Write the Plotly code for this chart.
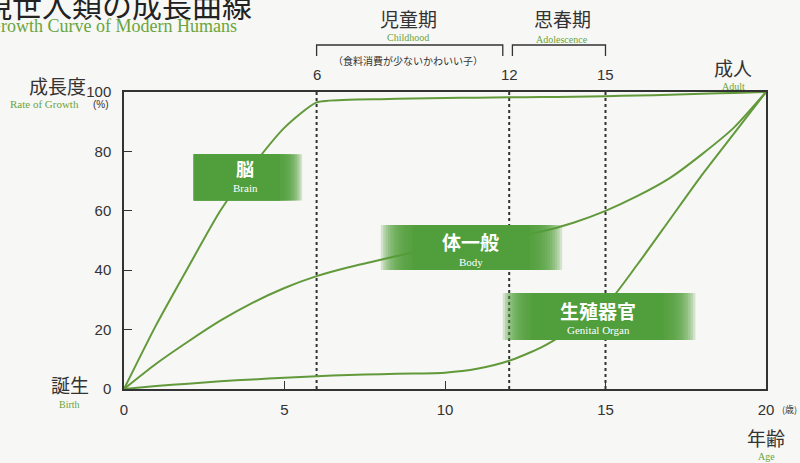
import plotly.graph_objects as go

# ---- data ----
ages = [0, 1, 2, 3, 4, 5, 6, 7, 8, 9, 10, 11, 12, 13, 14, 15, 16, 17, 18, 19, 20]
brain = [0, 21.5, 41, 60, 75, 88, 96.5, 97.4, 97.6, 97.8, 98, 98.1, 98.2, 98.3, 98.4, 98.6, 98.8, 99.1, 99.4, 99.7, 100]
body = [0, 8.5, 16, 23, 29, 34, 38, 41, 43.5, 46, 48, 49.5, 51, 53, 56, 60, 65, 71, 79, 88, 100]
genital = [0, 1, 1.8, 2.6, 3.2, 3.8, 4.3, 4.7, 5, 5.2, 5.5, 6.8, 9.5, 14, 20.5, 28, 42, 57, 72, 86, 100]
x_ticks = [0, 5, 10, 15, 20]
y_ticks = [0, 20, 40, 60, 80, 100]
period_marks = [6, 12, 15]

JP = "Noto Sans CJK JP"
SERIF = "Liberation Serif"
SANS = "Liberation Sans"
GREEN_LINE = "#62993a"
GREEN_TXT = "#6aa53c"
BOX = (80, 158, 60)
DARK = "#333333"
BG = "#f7f7f5"

fig = go.Figure()
for name, ys in [("脳", brain), ("体一般", body), ("生殖器官", genital)]:
    fig.add_trace(go.Scatter(x=ages, y=ys, mode="lines", name=name,
                             line=dict(color=GREEN_LINE, width=2, shape="spline", smoothing=0.6),
                             cliponaxis=False, showlegend=False, hoverinfo="skip"))

shapes = []
for xm in period_marks:
    shapes.append(dict(type="line", xref="x", yref="y", x0=xm, x1=xm, y0=0, y1=100,
                       line=dict(color=DARK, width=2, dash="dot"), layer="below"))


def faded_box(x0, x1, y0, y1, fl, fr, n=14, alpha=0.22):
    """box whose left/right edges fade out; built from overlapping translucent rects"""
    r, g, b = BOX
    fill = f"rgba({r},{g},{b},{alpha})"
    out = []
    for i in range(n):
        t = i / (n - 1)
        out.append(dict(type="rect", xref="x", yref="y",
                        x0=x0 + fl * t, x1=x1 - fr * t, y0=y0, y1=y1,
                        fillcolor=fill, line=dict(width=0), layer="above"))
    out.append(dict(type="rect", xref="x", yref="y", x0=x0 + fl, x1=x1 - fr, y0=y0, y1=y1,
                    fillcolor=f"rgb({r},{g},{b})", line=dict(width=0), layer="above"))
    return out


shapes += faded_box(2.15, 5.55, 63.5, 79, 0.04, 0.7)
shapes += faded_box(8.0, 13.65, 40.1, 55.2, 1.0, 1.0)
shapes += faded_box(11.8, 17.8, 16.5, 32.3, 0.9, 1.0)


def ypx(p):
    return (389 - p) / (389 - 92)


def px2x(p):
    return (p - 124) / 642


# brackets on top (x in data, y in paper)
for xa, xb in [(6, 11.8), (12.1, 15)]:
    shapes.append(dict(type="path", xref="x", yref="paper",
                       path=f"M {xa},{ypx(56)} L {xa},{ypx(45)} L {xb},{ypx(45)} L {xb},{ypx(56)}",
                       line=dict(color=DARK, width=1.3)))

ann = []


def A(text, x, y, size, color=DARK, family=JP, xref="x", yref="y", xanchor="center", bold=False):
    if bold:
        text = f"<b>{text}</b>"
    if xref == "paper":
        x = px2x(x)
    if yref == "paper":
        y = ypx(y)
    ann.append(dict(text=text, x=x, y=y, xref=xref, yref=yref, showarrow=False,
                    font=dict(size=size, color=color, family=family), xanchor=xanchor, yanchor="middle"))


# label boxes text
A("脳", 3.77, 74.4, 18, "white", bold=True)
A("Brain", 3.77, 67.6, 11, "white", SERIF)
A("体一般", 10.8, 49.6, 19, "white", bold=True)
A("Body", 10.8, 42.9, 11, "white", SERIF)
A("生殖器官", 14.77, 26.4, 19, "white", bold=True)
A("Genital Organ", 14.77, 19.8, 11, "white", SERIF)

# title (cut off at top-left)
A("現世人類の成長曲線", -20, 4, 30, "#222", JP, xref="paper", yref="paper", xanchor="left")
A("Growth Curve of Modern Humans", -14, 26, 18, GREEN_TXT, SERIF, xref="paper", yref="paper", xanchor="left")

# period headers
A("児童期", 408, 19, 19, DARK, JP, xref="paper", yref="paper")
A("Childhood", 408, 37, 10, GREEN_TXT, SERIF, xref="paper", yref="paper")
A("思春期", 562, 19, 19, DARK, JP, xref="paper", yref="paper")
A("Adolescence", 562, 39, 10, GREEN_TXT, SERIF, xref="paper", yref="paper")
A("（食料消費が少ないかわいい子）", 408, 60, 10, DARK, JP, xref="paper", yref="paper")
for xm in period_marks:
    A(str(xm), xm, 74, 15, DARK, SANS, yref="paper")

# side labels
A("成長度", 57, 85, 19, DARK, JP, xref="paper", yref="paper")
A("Rate of Growth", 44, 104, 11, GREEN_TXT, SERIF, xref="paper", yref="paper")
A("(%)", 101, 104, 10, DARK, SANS, xref="paper", yref="paper")
A("誕生", 70, 384, 19, DARK, JP, xref="paper", yref="paper")
A("Birth", 69, 404, 10, GREEN_TXT, SERIF, xref="paper", yref="paper")
A("成人", 733, 67, 19, DARK, JP, xref="paper", yref="paper")
A("Adult", 733, 86, 10, GREEN_TXT, SERIF, xref="paper", yref="paper")
A("年齢", 766, 437, 19, DARK, JP, xref="paper", yref="paper")
A("Age", 766, 456, 10, GREEN_TXT, SERIF, xref="paper", yref="paper")
A("(歳)", 789, 409, 9, DARK, JP, xref="paper", yref="paper")

fig.update_layout(
    width=800, height=463,
    margin=dict(l=124, r=34, t=92, b=74),
    paper_bgcolor=BG, plot_bgcolor=BG,
    shapes=shapes, annotations=ann,
    xaxis=dict(range=[0, 20], tickvals=x_ticks, ticktext=[str(v) for v in x_ticks],
               showgrid=False, zeroline=False, showline=True, linecolor=DARK, linewidth=1.5,
               mirror=True, ticks="inside", ticklen=8, tickcolor=DARK,
               tickfont=dict(family=SANS, size=15, color=DARK), ticklabelstandoff=6),
    yaxis=dict(range=[0, 100], tickvals=y_ticks, showgrid=False, zeroline=False, showline=True,
               linecolor=DARK, linewidth=1.5, mirror=True, ticks="inside", ticklen=8, tickcolor=DARK,
               tickfont=dict(family=SANS, size=15, color=DARK), ticklabelstandoff=8),
)

fig.write_html("out.html", config={"displayModeBar": False},
               post_script="document.body.style.margin='0';document.body.style.background='%s';" % BG)
